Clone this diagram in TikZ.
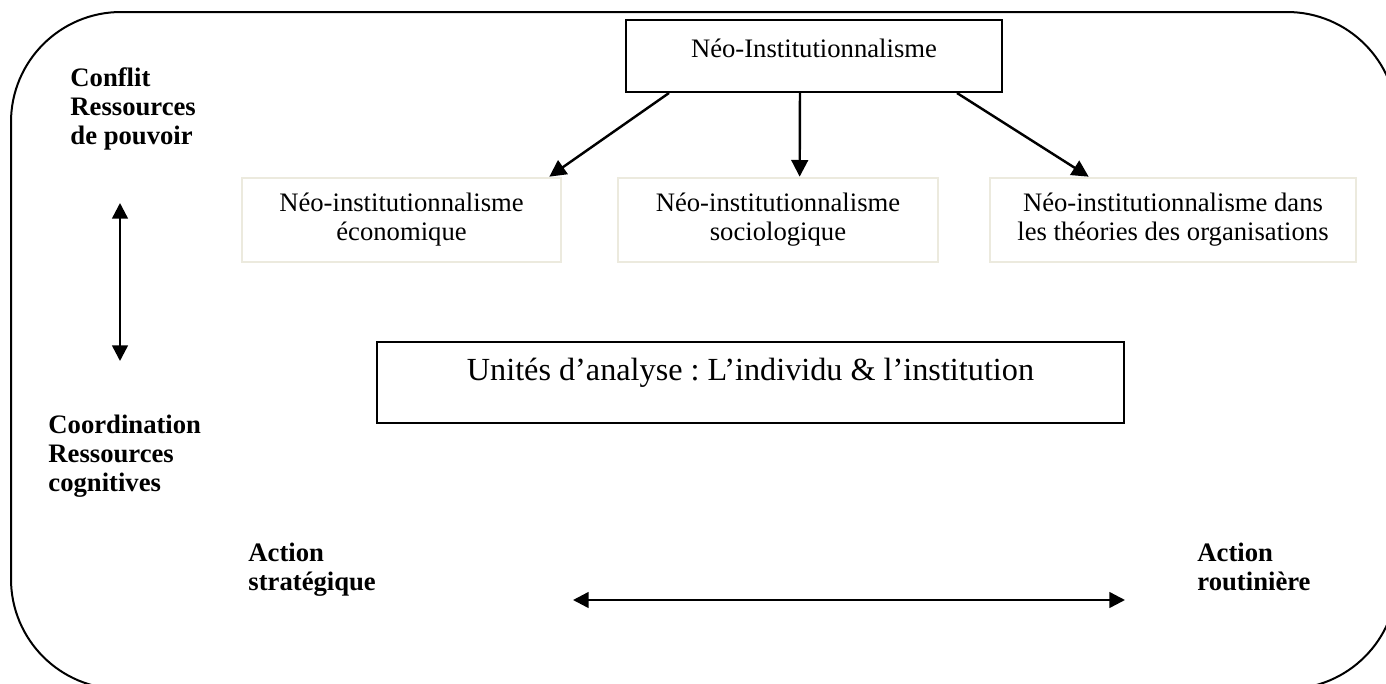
\documentclass[tikz,border=0pt]{standalone}
\usepackage{fontspec}
\setmainfont{Liberation Serif}
\usetikzlibrary{arrows.meta,calc}
\frenchspacing

\definecolor{tanline}{RGB}{236,234,222}

\tikzset{
  frame/.style={line width=0.9pt, rounded corners=49.5pt},
  mainbox/.style={draw=black, line width=0.9pt, inner sep=0pt},
  subbox/.style={draw=tanline, line width=1.2pt, inner sep=0pt,
                 minimum height=37.8pt},
  boxtext/.style={inner sep=0pt, align=center, font=\fontsize{12}{13.05}\selectfont},
  sidelabel/.style={inner sep=0pt, anchor=north west, align=left,
                    font=\fontsize{12}{13.05}\selectfont\bfseries},
  link/.style={line width=1.1pt, -{Triangle[length=7.5pt,width=7.5pt]}},
  twoway/.style={line width=1.1pt, {Triangle[length=7pt,width=7pt]}-{Triangle[length=7pt,width=7pt]}}
}

\begin{document}
\begin{tikzpicture}[x=0.45pt, y=-0.45pt]
  \useasboundingbox (0,0) rectangle (1386,684);
  \clip (0,0) rectangle (1386,684);

  % rounded outer frame (runs past the right and bottom edges)
  \draw[frame] (11,12) rectangle (1397,689);

  % top box
  \node[mainbox, minimum width=169.2pt, minimum height=32.4pt] (neo) at (814,56) {};
  \node[boxtext] (neotext) at (814,48) {Néo-Institutionnalisme};

  % three branches
  \node[subbox, minimum width=143.55pt] (eco) at (401.5,220)
    {\parbox{143pt}{\centering\fontsize{12}{13.05}\selectfont Néo-institutionnalisme\\ économique}};
  \node[subbox, minimum width=144pt] (socio) at (778,220)
    {\parbox{143pt}{\centering\fontsize{12}{13.05}\selectfont Néo-institutionnalisme\\ sociologique}};
  \node[subbox, minimum width=164.7pt] (orga) at (1173,220)
    {\parbox{164pt}{\centering\fontsize{12}{13.05}\selectfont Néo-institutionnalisme dans\\ les théories des organisations}};

  \draw[link] ($(neo.south west)+(44,0)$) -- ($(eco.north east)+(-13,0)$);
  \draw[link] ($(neo.south west)+(175,0)$) -- ($(socio.north west)+(183,0)$);
  \draw[link] ($(neo.south west)+(332,0)$) -- ($(orga.north west)+(100,0)$);

  % units of analysis
  \node[mainbox, minimum width=336.15pt, minimum height=36.45pt] (unit) at (750.5,382.5) {};
  \node[inner sep=0pt, font=\fontsize{14.5}{16.5}\selectfont] (unittext) at (750.5,373)
    {Unités d’analyse : L’individu \& l’institution};

  % side labels
  \node[sidelabel] (conflit) at (70,67) {Conflit\\Ressources\\de pouvoir};
  \node[sidelabel] (coord) at (48,415) {Coordination\\Ressources\\cognitives};
  \node[sidelabel] (strat) at (248,543) {Action\\stratégique};
  \node[sidelabel] (rout) at (1197,543) {Action\\routinière};

  % two-way arrows
  \coordinate (vtop) at (120,203);
  \coordinate (vbot) at (120,361);
  \draw[twoway] (vtop) -- (vbot);
  \coordinate (hleft) at (573,600);
  \coordinate (hright) at (1125,600);
  \draw[twoway] (hleft) -- (hright);
\end{tikzpicture}
\end{document}
